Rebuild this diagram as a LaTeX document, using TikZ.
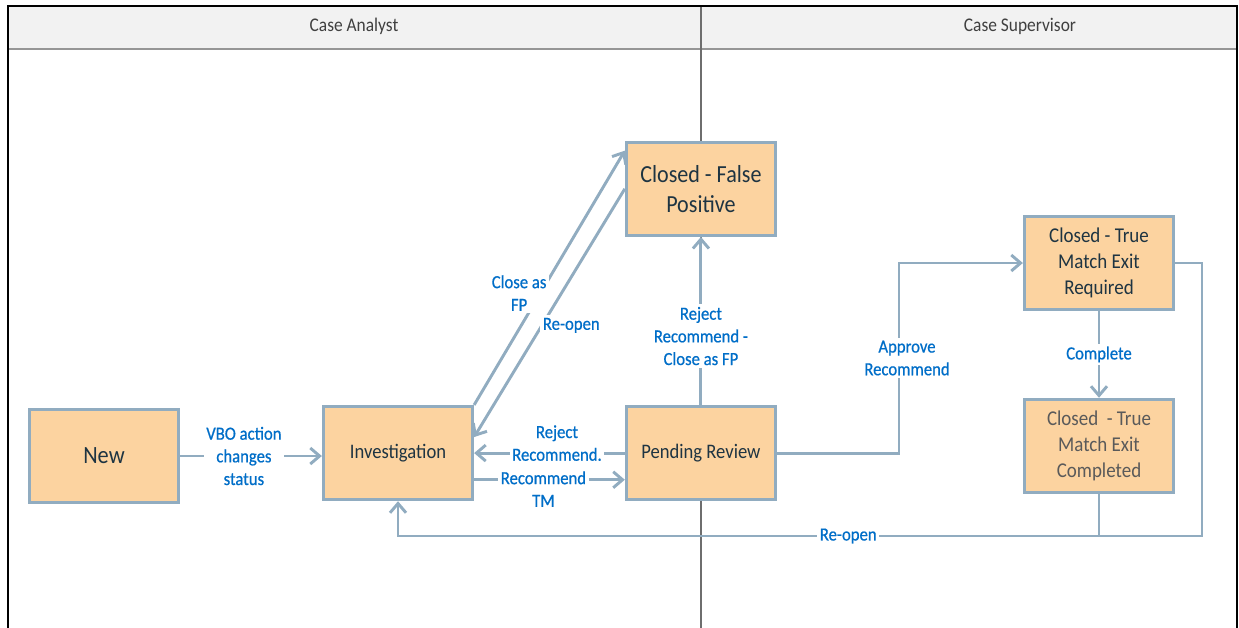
\documentclass[tikz,border=0pt]{standalone}
\usepackage{fontspec}
\setmainfont{Carlito}[FakeStretch=0.9]
\newfontfamily\lblfont{Carlito}[FakeStretch=0.9, FakeBold=0.6]
\usetikzlibrary{positioning,arrows.meta}

\definecolor{boxfill}{RGB}{252,211,160}
\definecolor{boxline}{RGB}{145,172,192}
\definecolor{boxtext}{RGB}{30,52,66}
\definecolor{donetext}{RGB}{90,90,90}
\definecolor{lblblue}{RGB}{0,110,200}
\definecolor{hdrfill}{RGB}{242,242,242}
\definecolor{hdrline}{RGB}{150,150,150}
\definecolor{lanediv}{RGB}{110,110,110}

\begin{document}
\begin{tikzpicture}[x=0.75pt, y=-0.75pt,
		st/.style={rectangle, draw=boxline, line width=2.2pt, fill=boxfill, text=boxtext, align=center, minimum width=112pt, minimum height=70pt},
		lbl/.style={fill=white, text=lblblue, align=center, inner sep=2pt, font=\lblfont\fontsize{13.9}{17}\selectfont},
		tr/.style={draw=boxline, line width=2.2pt, -{Straight Barb[length=7pt, width=12pt]}},
		ln/.style={draw=boxline, line width=2.2pt}]
		\useasboundingbox (0,0) rectangle (1239,628);

		% lanes
		\fill[hdrfill] (8,6) rectangle (1237,49);
		\draw[hdrline, line width=1.5pt] (8,49) -- (1237,49);
		\draw[lanediv, line width=0.8pt] (701,6) -- (701,628);
		\draw[black, line width=1.6pt] (8,628) -- (8,6) -- (1237,6) -- (1237,628);
		\node[text=black!75, font=\fontsize{14.5}{17}\selectfont] (analyst) at (354,26) {Case Analyst};
		\node[text=black!75, font=\fontsize{14.5}{17}\selectfont] (supervisor) at (1020,26) {Case Supervisor};

		% states
		\node[st, font=\fontsize{18.6}{22}\selectfont] (new) at (104,456) {New};
		\node[st, right=106.3pt of new, yshift=2.2pt, font=\fontsize{15.5}{18}\selectfont] (inv) {Investigation};
		\node[st, right=113pt of inv, font=\fontsize{15.5}{18}\selectfont] (pend) {Pending Review};
		\node[st, above=126pt of pend, font=\fontsize{18.4}{22.5}\selectfont] (cfp) {Closed - False\\Positive};
		\node[st, font=\fontsize{15.8}{19.5}\selectfont] (ctr) at (1099,263) {Closed - True\\Match Exit\\Required};
		\node[st, below=65pt of ctr, text=donetext, font=\fontsize{15.8}{19.5}\selectfont] (ctc) {Closed\ \ - True\\Match Exit\\Completed};

		\coordinate (apx) at (899,0);
		\coordinate (rox) at (1202,536);

		\path[tr] (new.east) -- node[lbl, pos=0.45] (lvbo) {VBO action\\changes\\status} (new.east -| inv.west);
		\path[tr] (inv.north east) -- node[lbl, pos=0.44, xshift=-16pt] (lfp) {Close as\\FP} ([yshift=-7.5pt]cfp.north west);
		\path[tr] (cfp.west) -- node[lbl, pos=0.55, xshift=22pt] (lreo) {Re-open} ([yshift=12pt]inv.east);
		\path[tr] (pend.west) -- node[lbl, pos=0.45, yshift=7.5pt] (lrej) {Reject\\Recommend.} (inv.east);
		\path[tr] ([yshift=-20pt]inv.east) -- node[lbl, pos=0.46, yshift=-7pt] (ltm) {Recommend\\TM} ([yshift=-20pt]pend.west);
		\path[tr] (pend) -- node[lbl, pos=0.41] (lrfp) {Reject\\Recommend -\\Close as FP} (cfp);
		\path[tr] (pend.east) -- (pend.east -| apx) |- node[lbl, pos=0.25, xshift=6pt] (lapp) {Approve\\Recommend} (ctr.west);
		\path[tr] (ctr) -- node[lbl] (lcomp) {Complete} (ctc);
		\path[ln] (ctc.south) -- (ctc.south |- rox);
		\path[tr] (ctr.east) -| (rox) -| node[lbl, pos=0.22] (lback) {Re-open} (inv.south);
	\end{tikzpicture}
\end{document}
